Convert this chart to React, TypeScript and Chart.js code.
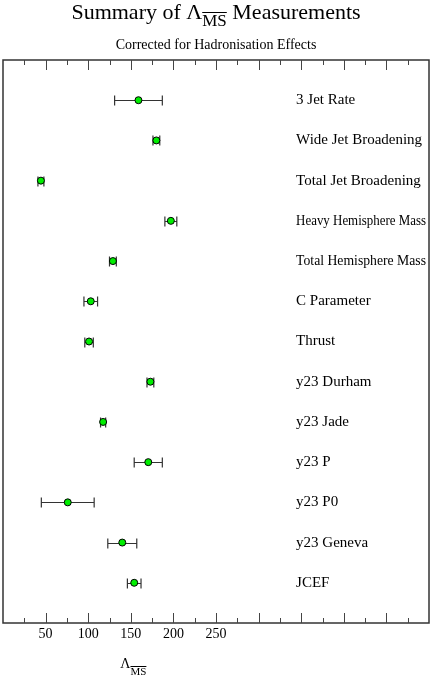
import React, { useEffect, useRef } from 'react';
import { Chart, registerables } from 'chart.js';

Chart.register(...registerables);

const categories = [
  '3 Jet Rate',
  'Wide Jet Broadening',
  'Total Jet Broadening',
  'Heavy Hemisphere Mass',
  'Total Hemisphere Mass',
  'C Parameter',
  'Thrust',
  'y23 Durham',
  'y23 Jade',
  'y23 P',
  'y23 P0',
  'y23 Geneva',
  'JCEF',
];
const values = [159, 180, 44.5, 197, 129, 103, 101, 173, 117.5, 170.5, 76, 140, 154];
const errors = [28, 4, 3.5, 7, 4, 8, 5, 4, 3, 16.5, 31, 17, 8];
const tickLabels = [50, 100, 150, 200, 250];

const SERIF = '"Liberation Serif", "DejaVu Serif", "Times New Roman", serif';

type Seg = { text: string; sub?: boolean };

function drawSegments(
  ctx: CanvasRenderingContext2D,
  segs: Seg[],
  cx: number,
  baseline: number,
  size: number,
  subSize: number,
  subDrop: number
) {
  const widths = segs.map((s) => {
    ctx.font = `${s.sub ? subSize : size}px ${SERIF}`;
    return ctx.measureText(s.text).width;
  });
  const total = widths.reduce((a, b) => a + b, 0);
  let x = cx - total / 2;
  ctx.textAlign = 'left';
  ctx.textBaseline = 'alphabetic';
  ctx.fillStyle = '#000';
  segs.forEach((s, i) => {
    if (s.sub) {
      ctx.font = `${subSize}px ${SERIF}`;
      const y = baseline + subDrop;
      ctx.fillText(s.text, x, y);
      ctx.strokeStyle = '#000';
      ctx.lineWidth = Math.max(1, size / 22);
      ctx.beginPath();
      const oy = Math.round(y - subSize * 0.85) + 0.5;
      ctx.moveTo(x, oy);
      ctx.lineTo(x + widths[i], oy);
      ctx.stroke();
    } else {
      ctx.font = `${size}px ${SERIF}`;
      ctx.fillText(s.text, x, baseline);
    }
    x += widths[i];
  });
}

const decorPlugin = {
  id: 'decor',
  beforeDatasetsDraw(chart: any) {
    const { ctx, chartArea, scales } = chart;
    const xs = scales.x;
    const ys = scales.y;
    ctx.save();
    // frame
    ctx.strokeStyle = '#333';
    ctx.lineWidth = 1.5;
    ctx.strokeRect(chartArea.left, chartArea.top, chartArea.right - chartArea.left, chartArea.bottom - chartArea.top);
    // inward ticks top and bottom
    ctx.strokeStyle = '#444';
    ctx.lineWidth = 1;
    xs.ticks.forEach((t: any) => {
      const v = t.value;
      if (v <= xs.min || v >= xs.max) return;
      const px = Math.round(xs.getPixelForValue(v)) + 0.5;
      const len = v % 50 === 0 ? 10 : 5;
      ctx.beginPath();
      ctx.moveTo(px, chartArea.bottom);
      ctx.lineTo(px, chartArea.bottom - len);
      ctx.moveTo(px, chartArea.top);
      ctx.lineTo(px, chartArea.top + len);
      ctx.stroke();
    });
    // error bars
    ctx.strokeStyle = '#333';
    ctx.lineWidth = 1.2;
    values.forEach((v, i) => {
      const py = Math.round(ys.getPixelForValue(i + 1)) + 0.5;
      const x1 = xs.getPixelForValue(v - errors[i]);
      const x2 = xs.getPixelForValue(v + errors[i]);
      ctx.beginPath();
      ctx.moveTo(x1, py);
      ctx.lineTo(x2, py);
      ctx.moveTo(x1, py - 5);
      ctx.lineTo(x1, py + 5);
      ctx.moveTo(x2, py - 5);
      ctx.lineTo(x2, py + 5);
      ctx.stroke();
    });
    ctx.restore();
  },
  afterDatasetsDraw(chart: any) {
    const { ctx, chartArea, scales } = chart;
    const ys = scales.y;
    const xs = scales.x;
    ctx.save();
    ctx.fillStyle = '#000';
    ctx.textAlign = 'left';
    ctx.textBaseline = 'middle';
    ctx.font = `15px ${SERIF}`;
    const lx = xs.getPixelForValue(344);
    categories.forEach((c, i) => {
      const py = ys.getPixelForValue(i + 1);
      ctx.fillText(c, lx, py, chartArea.right - lx - 3);
    });
    // titles
    drawSegments(ctx, [{ text: 'Summary of Λ' }, { text: 'MS', sub: true }, { text: ' Measurements' }], 216, 19, 22, 17, 7);
    ctx.font = `14px ${SERIF}`;
    ctx.textAlign = 'center';
    ctx.textBaseline = 'alphabetic';
    ctx.fillText('Corrected for Hadronisation Effects', 216, 49);
    // axis title
    drawSegments(ctx, [{ text: 'Λ' }, { text: 'MS', sub: true }], xs.getPixelForValue(153), 668, 14, 11, 7);
    ctx.restore();
  },
};

export default function App() {
  const ref = useRef<HTMLCanvasElement | null>(null);
  useEffect(() => {
    if (!ref.current) return;
    const chart = new Chart(ref.current, {
      type: 'scatter',
      data: {
        datasets: [
          {
            data: values.map((v, i) => ({ x: v, y: i + 1 })),
            backgroundColor: '#00ee00',
            borderColor: '#000',
            borderWidth: 1,
            pointRadius: 3.5,
            pointHoverRadius: 3.5,
          },
        ],
      },
      options: {
        responsive: false,
        animation: false,
        layout: { autoPadding: false, padding: { top: 60, left: 2, right: 3, bottom: 0 } },
        plugins: { legend: { display: false }, tooltip: { enabled: false }, title: { display: false } },
        scales: {
          x: {
            type: 'linear',
            position: 'bottom',
            min: 0,
            max: 500,
            grid: { display: false, drawTicks: false },
            border: { display: false },
            ticks: {
              stepSize: 25,
              autoSkip: false,
              maxRotation: 0,
              padding: 3,
              color: '#000',
              font: { family: SERIF, size: 14 },
              callback: (v: any) => (tickLabels.includes(Number(v)) ? String(v) : ''),
            },
            afterFit: (s: any) => {
              s.height = 53;
            },
          },
          y: {
            type: 'linear',
            min: 0,
            max: 14,
            reverse: true,
            display: false,
          },
        },
      },
      plugins: [decorPlugin],
    } as any);
    return () => chart.destroy();
  }, []);
  return (
    <div style={{ position: 'fixed', left: 0, top: 0, width: 432, height: 676, background: '#fff' }}>
      <canvas ref={ref} width={432} height={676} style={{ width: 432, height: 676, display: 'block' }} />
    </div>
  );
}
